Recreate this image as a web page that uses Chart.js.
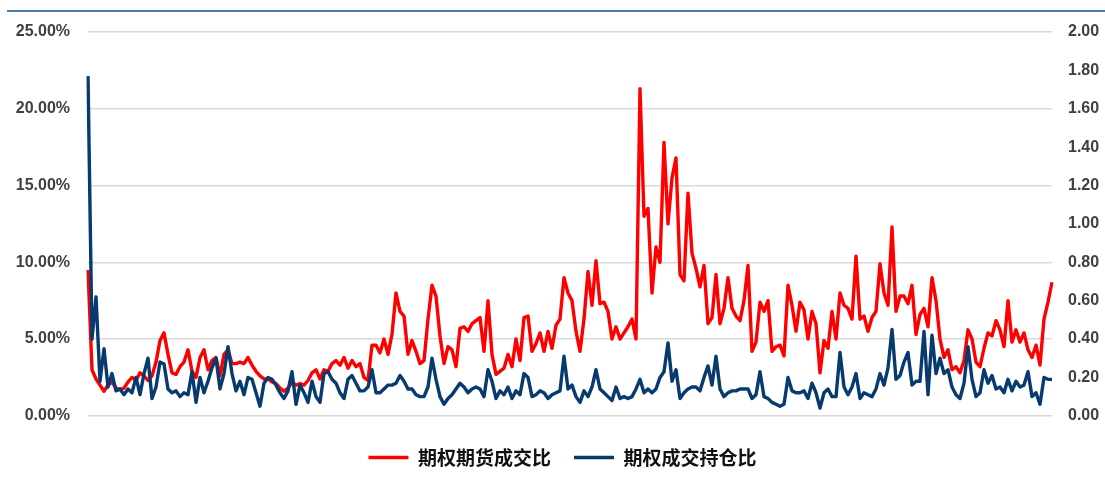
<!DOCTYPE html>
<html>
<head>
<meta charset="utf-8">
<script src="https://cdn.jsdelivr.net/npm/chart.js@4.4.1/dist/chart.umd.min.js"></script>
<style>
html,body{margin:0;padding:0;background:#fff;}
#wrap{width:1105px;height:480px;position:relative;}
</style>
</head>
<body>
<div id="wrap"><canvas id="c" width="1105" height="480"></canvas></div>
<script>
const seriesNames = ['期权期货成交比', '期权成交持仓比'];
const leftTicks = [0, 5, 10, 15, 20, 25];
const rightTicks = [0, 0.2, 0.4, 0.6, 0.8, 1.0, 1.2, 1.4, 1.6, 1.8, 2.0];

const futuresRatio = [
9.5,3.0,2.4,2.0,1.6,2.0,2.2,1.8,1.7,1.8,2.2,2.5,2.3,2.8,2.6,2.3,2.6,3.5,4.9,5.4,4.0,2.8,2.7,3.2,3.5,4.3,2.9,2.5,3.8,4.3,3.0,
3.6,3.8,2.6,4.0,4.3,3.4,3.4,3.5,3.4,3.8,3.3,2.9,2.6,2.4,2.4,2.2,2.1,1.8,1.6,1.8,2.2,2.0,2.1,2.0,2.3,2.8,3.0,2.4,3.0,2.9,
3.4,3.6,3.3,3.8,3.1,3.6,3.2,3.4,2.5,2.3,4.6,4.6,4.1,5.0,4.0,5.3,8.0,6.8,6.5,4.0,4.9,4.2,3.4,3.6,6.3,8.5,7.8,5.2,3.4,4.5,
4.3,3.2,5.7,5.8,5.5,6.0,6.2,6.4,4.2,7.5,4.0,2.7,2.9,3.1,4.0,3.2,5.0,3.6,6.4,6.5,4.2,4.7,5.4,4.2,5.5,4.4,5.9,6.3,9.0,8.0,
7.5,5.5,4.2,6.3,9.4,7.2,10.1,7.3,7.4,6.8,5.0,5.8,5.0,5.4,5.8,6.3,5.0,21.3,13.0,13.5,8.0,11.0,10.0,17.8,12.5,15.5,16.8,9.2,8.8,14.5,
10.6,9.6,8.4,9.8,6.0,6.4,9.2,6.0,7.0,9.0,7.0,6.5,6.2,7.5,9.8,4.2,4.8,7.4,6.8,7.5,4.2,4.5,4.6,3.9,8.5,7.2,5.5,7.4,6.9,5.0,
6.8,6.0,2.8,4.9,4.4,6.8,5.0,8.0,7.2,7.0,6.3,10.4,6.3,6.5,5.5,6.4,6.8,9.9,8.0,7.2,12.3,6.8,7.8,7.8,7.3,8.5,5.3,6.6,7.0,5.8,
9.0,7.5,5.0,3.8,4.3,3.0,3.2,2.8,3.6,5.6,5.0,3.5,3.2,4.4,5.4,5.2,6.2,5.6,4.5,7.5,4.8,5.6,4.8,5.4,4.3,3.8,4.6,3.3,6.3,7.4,8.7
];

const volumeOiRatio = [
1.77,0.40,0.62,0.18,0.35,0.15,0.22,0.13,0.14,0.11,0.14,0.12,0.20,0.11,0.22,0.30,0.09,0.15,0.28,0.27,0.14,0.12,0.13,0.10,0.12,0.11,0.23,0.07,0.20,0.12,0.18,
0.25,0.30,0.14,0.22,0.36,0.22,0.13,0.18,0.11,0.20,0.19,0.12,0.05,0.17,0.20,0.19,0.16,0.12,0.09,0.13,0.23,0.06,0.16,0.12,0.07,0.18,0.10,0.07,0.22,0.23,
0.19,0.17,0.12,0.09,0.19,0.21,0.17,0.13,0.13,0.15,0.24,0.12,0.12,0.14,0.16,0.16,0.17,0.21,0.18,0.14,0.14,0.11,0.10,0.10,0.15,0.30,0.19,0.10,0.06,0.09,
0.11,0.14,0.17,0.15,0.12,0.14,0.15,0.14,0.10,0.24,0.18,0.09,0.13,0.11,0.15,0.09,0.13,0.11,0.22,0.20,0.10,0.11,0.13,0.12,0.09,0.11,0.12,0.13,0.31,0.14,
0.16,0.10,0.07,0.13,0.10,0.15,0.24,0.14,0.12,0.10,0.08,0.15,0.09,0.10,0.09,0.10,0.14,0.19,0.12,0.14,0.12,0.14,0.20,0.23,0.38,0.18,0.24,0.09,0.12,0.14,
0.15,0.15,0.13,0.20,0.26,0.16,0.31,0.14,0.10,0.12,0.13,0.13,0.14,0.14,0.14,0.09,0.11,0.23,0.10,0.09,0.07,0.06,0.05,0.06,0.20,0.13,0.12,0.12,0.13,0.09,
0.17,0.12,0.04,0.12,0.14,0.10,0.10,0.33,0.15,0.11,0.15,0.22,0.09,0.12,0.11,0.10,0.14,0.22,0.16,0.25,0.45,0.19,0.21,0.28,0.33,0.16,0.18,0.18,0.44,0.11,
0.42,0.22,0.30,0.22,0.24,0.15,0.11,0.09,0.17,0.36,0.19,0.10,0.12,0.24,0.17,0.21,0.14,0.15,0.12,0.19,0.13,0.18,0.15,0.16,0.23,0.10,0.12,0.06,0.20,0.19,0.19
];

const categories = futuresRatio.map((_, i) => String(i + 1));

const topRule = {
  id: 'topRule',
  afterLayout(chart) {
    if (chart.legend) { chart.legend.left += 20; }
  },
  afterDraw(chart) {
    const ctx = chart.ctx;
    ctx.save();
    ctx.strokeStyle = '#4f79ad';
    ctx.lineWidth = 2;
    ctx.beginPath();
    ctx.moveTo(7, 11);
    ctx.lineTo(1105, 11);
    ctx.stroke();
    ctx.restore();
  }
};

const tickFont = { family: "'Liberation Sans', Arial, sans-serif", size: 16, weight: 'bold' };

new Chart(document.getElementById('c'), {
  type: 'line',
  data: {
    labels: categories,
    datasets: [
      {
        label: seriesNames[0],
        data: futuresRatio,
        yAxisID: 'y',
        borderColor: '#ff0000',
        backgroundColor: '#ff0000',
        borderWidth: 3.4,
        pointRadius: 0,
        tension: 0,
        borderJoinStyle: 'round',
        order: 2
      },
      {
        label: seriesNames[1],
        data: volumeOiRatio,
        yAxisID: 'y1',
        borderColor: '#073a6e',
        backgroundColor: '#073a6e',
        borderWidth: 3.4,
        pointRadius: 0,
        tension: 0,
        borderJoinStyle: 'round',
        order: 1
      }
    ]
  },
  options: {
    responsive: false,
    animation: false,
    events: [],
    layout: { padding: { top: 32, bottom: 3, left: 0, right: 0 } },
    plugins: {
      tooltip: { enabled: false },
      legend: {
        position: 'bottom',
        title: { display: true, text: ' ', font: { size: 1, lineHeight: 1.2 }, padding: { top: 8, bottom: 0 } },
        labels: {
          usePointStyle: true,
          pointStyle: 'line',
          pointStyleWidth: 40,
          boxHeight: 10,
          padding: 23,
          color: '#111',
          font: { family: "'Noto Sans CJK SC', sans-serif", size: 19, weight: 'bold' },
          sort: (a, b) => a.datasetIndex - b.datasetIndex
        }
      }
    },
    scales: {
      x: {
        display: false,
        offset: false
      },
      y: {
        position: 'left',
        min: 0,
        max: 25,
        afterFit(scale) { scale.width = 88; },
        afterBuildTicks(scale) { scale.ticks = leftTicks.map(v => ({ value: v })); },
        ticks: {
          padding: 18,
          color: '#404040',
          font: tickFont,
          callback: v => Number(v).toFixed(2) + '%'
        },
        grid: { color: '#d9d9d9', lineWidth: 1.5, drawTicks: false },
        border: { display: false }
      },
      y1: {
        position: 'right',
        min: 0,
        max: 2,
        afterFit(scale) { scale.width = 53; },
        afterBuildTicks(scale) { scale.ticks = rightTicks.map(v => ({ value: v })); },
        ticks: {
          padding: 16,
          color: '#404040',
          font: tickFont,
          callback: v => Number(v).toFixed(2)
        },
        grid: { display: false, drawTicks: false },
        border: { display: false }
      }
    }
  },
  plugins: [topRule]
});
</script>
</body>
</html>
